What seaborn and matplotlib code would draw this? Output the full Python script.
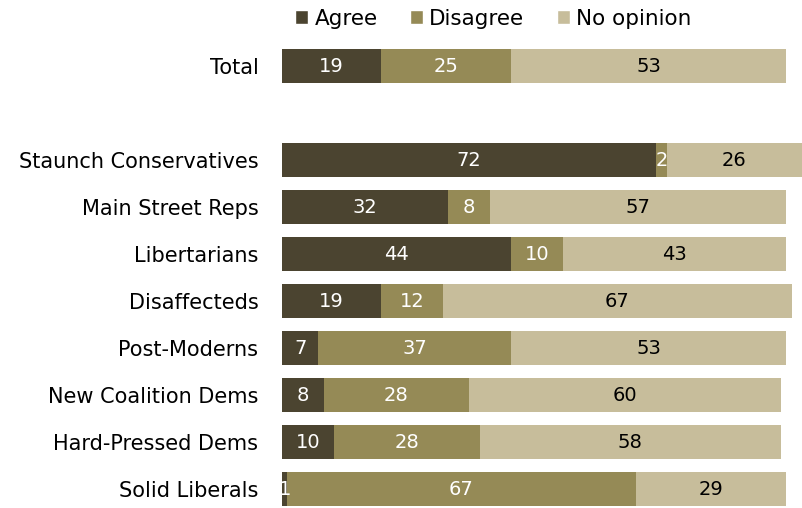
import numpy as np
import pandas as pd
import matplotlib
matplotlib.use("Agg")
import matplotlib.pyplot as plt
import seaborn as sns
from matplotlib.patches import Patch

groups = ["Total", "Staunch Conservatives", "Main Street Reps", "Libertarians",
          "Disaffecteds", "Post-Moderns", "New Coalition Dems",
          "Hard-Pressed Dems", "Solid Liberals"]
agree = [19, 72, 32, 44, 19, 7, 8, 10, 1]
disagree = [25, 2, 8, 10, 12, 37, 28, 28, 67]
no_opinion = [53, 26, 57, 43, 67, 53, 60, 58, 29]

# blank slot between Total and the segments
order = ["Total", " "] + groups[1:]

colors = {"Agree": "#4b4430", "Disagree": "#958a56", "No opinion": "#c7bd9b"}
text_colors = {"Agree": "white", "Disagree": "white", "No opinion": "black"}

df = pd.DataFrame({"Group": groups, "Agree": agree,
                   "Disagree": disagree, "No opinion": no_opinion})
df["c1"] = df["Agree"]
df["c2"] = df["Agree"] + df["Disagree"]
df["c3"] = df["c2"] + df["No opinion"]

sns.set_theme(style="white")
plt.rcParams["font.family"] = ["DejaVu Sans"]
plt.rcParams["text.color"] = "black"
plt.rcParams["ytick.color"] = "black"

fig = plt.figure(figsize=(8.02, 5.08), dpi=100)
ax = fig.add_axes([282 / 802, 0, 520 / 802, (508 - 42.5) / 508])

# stacked by overlapping cumulative bars
for col, key in [("c3", "No opinion"), ("c2", "Disagree"), ("c1", "Agree")]:
    sns.barplot(data=df, x=col, y="Group", order=order, orient="h",
                color=colors[key], width=0.72, saturation=1, linewidth=0, ax=ax)

pos = {g: order.index(g) for g in groups}
for _, r in df.iterrows():
    y = pos[r["Group"]]
    left = 0
    for key in ["Agree", "Disagree", "No opinion"]:
        v = r[key]
        ax.text(left + v / 2, y, f"{v}", ha="center", va="center",
                color=text_colors[key], fontsize=14)
        left += v

ax.set_xlim(0, 100)
ax.set_ylim(9.404, -0.5)
ax.set_xlabel("")
ax.set_ylabel("")
ax.set_xticks([])
ax.tick_params(axis="y", length=0, pad=17, labelsize=15)
for s in ax.spines.values():
    s.set_visible(False)

handles = [Patch(facecolor=colors[k], label=k) for k in ["Agree", "Disagree", "No opinion"]]
fig.legend(handles=handles, loc="center", bbox_to_anchor=(0.615, 0.963), ncol=3,
           frameon=False, fontsize=15.5, handlelength=0.6, handleheight=0.6,
           handletextpad=0.3, columnspacing=1.5)

fig.savefig("out.png", dpi=100)
